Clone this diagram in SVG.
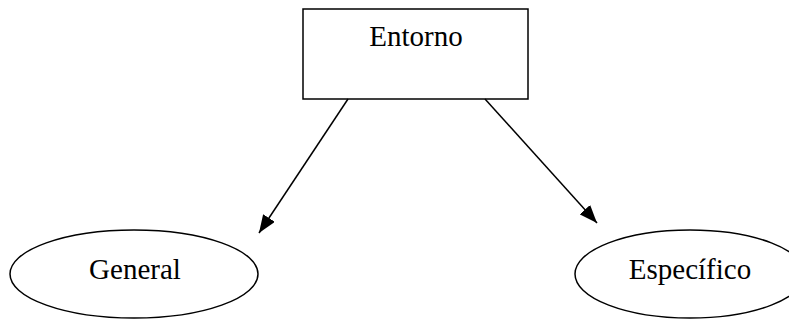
<svg xmlns="http://www.w3.org/2000/svg" width="789" height="320" viewBox="0 0 789 320">
<style>
.shape{fill:#fff;stroke:#000;stroke-width:1.5}
.lbl{font-family:"Liberation Serif","Times New Roman",serif;font-size:29px;fill:#000;text-anchor:middle}
.edge{stroke:#000;stroke-width:1.5;fill:none}
</style>
<defs>
<marker id="ah" markerWidth="18" markerHeight="14" refX="18" refY="7" orient="auto" markerUnits="userSpaceOnUse">
<path d="M0,0 L18,7 L0,14 Z" fill="#000"/>
</marker>
</defs>
<rect width="789" height="320" fill="#fff"/>
<g id="entorno">
<rect class="shape" x="303" y="9" width="225" height="90"/>
<text class="lbl" x="416" y="46">Entorno</text>
</g>
<g id="general">
<ellipse class="shape" cx="134" cy="274" rx="124" ry="44"/>
<text class="lbl" x="135" y="279">General</text>
</g>
<g id="especifico">
<ellipse class="shape" cx="690" cy="274" rx="115" ry="44"/>
<text class="lbl" x="690" y="279">Específico</text>
</g>
<g id="connectors">
<line class="edge" x1="348" y1="99" x2="259" y2="233" marker-end="url(#ah)"/>
<line class="edge" x1="485" y1="99" x2="597" y2="223" marker-end="url(#ah)"/>
</g>
</svg>
